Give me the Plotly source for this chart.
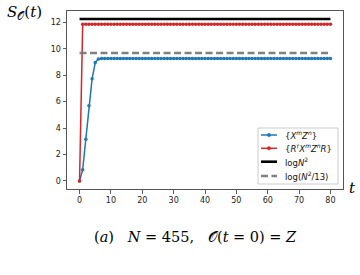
import plotly.graph_objects as go
import math

t = list(range(81))
blue_vals = [0.0, 0.85, 3.16, 5.69, 7.72, 8.95, 9.22, 9.25, 9.26, 9.26,
             9.26, 9.26, 9.26, 9.26, 9.26, 9.26, 9.26, 9.26, 9.26, 9.26,
             9.26, 9.26, 9.26, 9.26, 9.26, 9.26, 9.26, 9.26, 9.26, 9.26,
             9.26, 9.26, 9.26, 9.26, 9.26, 9.26, 9.26, 9.26, 9.26, 9.26,
             9.26, 9.26, 9.26, 9.26, 9.26, 9.26, 9.26, 9.26, 9.26, 9.26,
             9.26, 9.26, 9.26, 9.26, 9.26, 9.26, 9.26, 9.26, 9.26, 9.26,
             9.26, 9.26, 9.26, 9.26, 9.26, 9.26, 9.26, 9.26, 9.26, 9.26,
             9.26, 9.26, 9.26, 9.26, 9.26, 9.26, 9.26, 9.26, 9.26, 9.26,
             9.26]
red_vals = [0.0, 11.84, 11.84, 11.84, 11.84, 11.84, 11.84, 11.84, 11.84, 11.84,
            11.84, 11.84, 11.84, 11.84, 11.84, 11.84, 11.84, 11.84, 11.84, 11.84,
            11.84, 11.84, 11.84, 11.84, 11.84, 11.84, 11.84, 11.84, 11.84, 11.84,
            11.84, 11.84, 11.84, 11.84, 11.84, 11.84, 11.84, 11.84, 11.84, 11.84,
            11.84, 11.84, 11.84, 11.84, 11.84, 11.84, 11.84, 11.84, 11.84, 11.84,
            11.84, 11.84, 11.84, 11.84, 11.84, 11.84, 11.84, 11.84, 11.84, 11.84,
            11.84, 11.84, 11.84, 11.84, 11.84, 11.84, 11.84, 11.84, 11.84, 11.84,
            11.84, 11.84, 11.84, 11.84, 11.84, 11.84, 11.84, 11.84, 11.84, 11.84,
            11.84]
N = 455
ref_t = [0, 80]
logN2 = math.log(N ** 2)
logN2_13 = math.log(N ** 2 / 13)
x_ticks = [0, 10, 20, 30, 40, 50, 60, 70, 80]
y_ticks = [0, 2, 4, 6, 8, 10, 12]

names = ["{<i>X<sup>m</sup>Z<sup>n</sup></i>}",
         "{<i>R<sup>†</sup>X<sup>m</sup>Z<sup>n</sup>R</i>}",
         "log<i>N</i><sup>2</sup>",
         "log(<i>N</i><sup>2</sup>/13)"]

BLUE = "#1f77b4"
RED = "#d62728"
GRAY = "#808080"

fig = go.Figure()
fig.add_trace(go.Scatter(x=t, y=blue_vals, mode="lines+markers", name=names[0],
                         line=dict(color=BLUE, width=1.5),
                         marker=dict(size=3.5, color=BLUE)))
fig.add_trace(go.Scatter(x=t, y=red_vals, mode="lines+markers", name=names[1],
                         line=dict(color=RED, width=1.5),
                         marker=dict(size=3.5, color=RED)))
fig.add_trace(go.Scatter(x=ref_t, y=[logN2, logN2], mode="lines", name=names[2],
                         line=dict(color="black", width=2.6)))
fig.add_trace(go.Scatter(x=ref_t, y=[logN2_13, logN2_13], mode="lines", name=names[3],
                         line=dict(color=GRAY, width=2.6, dash="7px,3.5px")))

# page-pixel -> paper conversion for the plot area (left 67, right 343, top 11, bottom 189)
PL, PR, PT, PB = 67, 343, 11, 189
def px(xp):
    return (xp - PL) / (PR - PL)
def py(yp):
    return (PB - yp) / (PB - PT)

shapes = []
annotations = []
# custom legend box
shapes.append(dict(type="rect", xref="paper", yref="paper",
                   x0=px(258), x1=px(338), y0=py(184), y1=py(128),
                   line=dict(color="#cccccc", width=1), fillcolor="rgba(255,255,255,0.85)",
                   layer="above"))
rows = [135, 148.3, 161.7, 176]
styles = [(BLUE, 1.5, "solid", True), (RED, 1.5, "solid", True),
          ("black", 2.6, "solid", False), (GRAY, 2.6, "7px,3.5px", False)]
for yrow, (col, w, dash, mk), name in zip(rows, styles, names):
    shapes.append(dict(type="line", xref="paper", yref="paper",
                       x0=px(261), x1=px(277), y0=py(yrow), y1=py(yrow),
                       line=dict(color=col, width=w, dash=dash), layer="above"))
    if mk:
        shapes.append(dict(type="circle", xref="paper", yref="paper",
                           x0=px(267.3), x1=px(270.7), y0=py(yrow + 1.7), y1=py(yrow - 1.7),
                           line=dict(color=col, width=0.5), fillcolor=col, layer="above"))
    annotations.append(dict(text=name, xref="paper", yref="paper",
                            x=px(283), y=py(yrow), xanchor="left", yanchor="middle",
                            showarrow=False,
                            font=dict(family="DejaVu Sans", size=8.5, color="#111111")))

annotations += [
    dict(text="<i>S</i><sub>𝒪</sub>(<i>t</i>)", xref="paper", yref="paper",
         x=px(24), y=py(12), xanchor="center", yanchor="middle", showarrow=False,
         font=dict(family="DejaVu Serif", size=15, color="black")),
    dict(text="<i>t</i>", xref="paper", yref="paper",
         x=px(352), y=py(188), xanchor="center", yanchor="middle", showarrow=False,
         font=dict(family="DejaVu Serif", size=15, color="black")),
    dict(text="(<i>a</i>)   <i>N</i> = 455,   𝒪(<i>t</i> = 0) = <i>Z</i>",
         xref="paper", yref="paper", x=px(195), y=py(237),
         xanchor="center", yanchor="middle", showarrow=False,
         font=dict(family="DejaVu Serif", size=14.5, color="black")),
]

axis_common = dict(showgrid=False, zeroline=False, showline=True, mirror=True,
                   linecolor="#555555", linewidth=1, ticks="outside", ticklen=3.5,
                   tickcolor="#333333", tickwidth=0.8,
                   tickfont=dict(family="DejaVu Sans", size=8, color="#222222"))

fig.update_layout(
    width=360, height=275,
    margin=dict(l=PL, r=360 - PR, t=PT, b=275 - PB, autoexpand=False),
    paper_bgcolor="white", plot_bgcolor="white",
    xaxis=dict(range=[-4, 84], tickvals=x_ticks, **axis_common),
    yaxis=dict(range=[-0.61, 12.85], tickvals=y_ticks, **axis_common),
    showlegend=False,
    hovermode=False,
    shapes=shapes,
    annotations=annotations,
)

fig.write_html("out.html",
               config={"displayModeBar": False, "staticPlot": True},
               post_script="document.body.style.margin='0';document.body.style.overflow='hidden';")
